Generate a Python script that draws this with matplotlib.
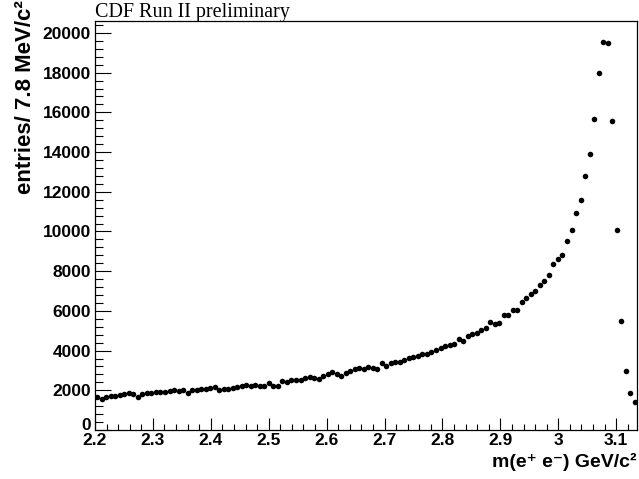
"""CDF Run II preliminary: m(e+e-) spectrum below the J/psi, 7.8 MeV bins, ROOT-like look."""
import matplotlib

matplotlib.use("Agg")
import matplotlib.pyplot as plt
import numpy as np
from matplotlib.ticker import MultipleLocator
from matplotlib.transforms import ScaledTranslation

# histogram definition
BIN_LO = 2.2
BIN_WIDTH = 0.0078  # GeV
COUNTS = [
    1680, 1580, 1680, 1700, 1700, 1760, 1810, 1850, 1810, 1650,
    1810, 1850, 1880, 1930, 1910, 1930, 1950, 2010, 1950, 2000,
    1880, 2000, 2010, 2050, 2080, 2120, 2170, 2010, 2070, 2080,
    2130, 2180, 2220, 2270, 2200, 2280, 2220, 2220, 2380, 2230,
    2220, 2470, 2400, 2520, 2500, 2500, 2620, 2660, 2600, 2570,
    2720, 2840, 2910, 2820, 2720, 2860, 2970, 3070, 3140, 3070,
    3190, 3120, 3070, 3360, 3220, 3360, 3440, 3410, 3530, 3640,
    3660, 3740, 3840, 3820, 3930, 4030, 4110, 4230, 4280, 4350,
    4570, 4480, 4750, 4850, 4870, 5020, 5140, 5440, 5340, 5410,
    5780, 5780, 6060, 6060, 6460, 6650, 6850, 7020, 7290, 7490,
    7820, 8380, 8600, 8800, 9520, 10080, 10920, 11590, 12810, 13890,
    15650, 18000, 19550, 19480, 15570, 10060, 5480, 2960, 1850, 1410,
]
YTICKS = [0, 2000, 4000, 6000, 8000, 10000, 12000, 14000, 16000, 18000, 20000]
XTICKS = [2.2, 2.3, 2.4, 2.5, 2.6, 2.7, 2.8, 2.9, 3.0, 3.1]
XTICKLABELS = ["2.2", "2.3", "2.4", "2.5", "2.6", "2.7", "2.8", "2.9", "3", "3.1"]

counts = np.array(COUNTS, dtype=float)
nbins = len(counts)
centers = BIN_LO + (np.arange(nbins) + 0.5) * BIN_WIDTH

SANS = ["Liberation Sans", "DejaVu Sans"]
SERIF = ["Liberation Serif", "DejaVu Serif"]

fig = plt.figure(figsize=(6.39, 4.79), dpi=100)
ax = fig.add_axes([95 / 639, 49 / 479, 542 / 639, 409 / 479])

ax.plot(centers, counts, "o", color="black", markersize=4.0, markeredgewidth=0)

ax.set_xlim(BIN_LO, BIN_LO + nbins * BIN_WIDTH)
ax.set_ylim(0, 20600)

ax.set_xticks(XTICKS)
ax.set_xticklabels(XTICKLABELS)
ax.set_yticks(YTICKS)
ax.xaxis.set_minor_locator(MultipleLocator(0.02))
ax.yaxis.set_minor_locator(MultipleLocator(400))

ax.tick_params(axis="x", which="major", direction="in", length=8.8, width=0.8, pad=2.5)
ax.tick_params(axis="x", which="minor", direction="in", length=4.4, width=0.8)
ax.tick_params(axis="y", which="major", direction="in", length=11.5, width=0.8, pad=3)
ax.tick_params(axis="y", which="minor", direction="in", length=5.8, width=0.8)
ax.tick_params(top=False, right=False, which="both")

for lab in ax.get_xticklabels() + ax.get_yticklabels():
    lab.set_fontfamily(SANS)
    lab.set_fontweight("bold")
    lab.set_fontsize(12.5)

# lift the "0" a little so it clears the first x label (ROOT does the same)
zero = ax.yaxis.get_major_ticks()[0].label1
zero.set_transform(zero.get_transform() + ScaledTranslation(0, 4 / 72, fig.dpi_scale_trans))

for s in ax.spines.values():
    s.set_linewidth(0.9)
    s.set_color("black")

# titles placed as ROOT does: x title right-aligned, y title top-aligned
fig.text(637 / 639, 1 - 467 / 479, "m(e\u207a e\u207b) GeV/c\u00b2", ha="right", va="baseline",
         fontsize=14, fontweight="bold", family=SANS)
fig.text(26 / 639, 1.0, "entries/ 7.8 MeV/c\u00b2", rotation=90, ha="center", va="top",
         fontsize=16, fontweight="bold", family=SANS)
fig.text(95 / 639, 1 - 17 / 479, "CDF Run II preliminary", ha="left", va="baseline",
         fontsize=14.5, family=SERIF)

fig.savefig("out.png", dpi=100, facecolor="white")
